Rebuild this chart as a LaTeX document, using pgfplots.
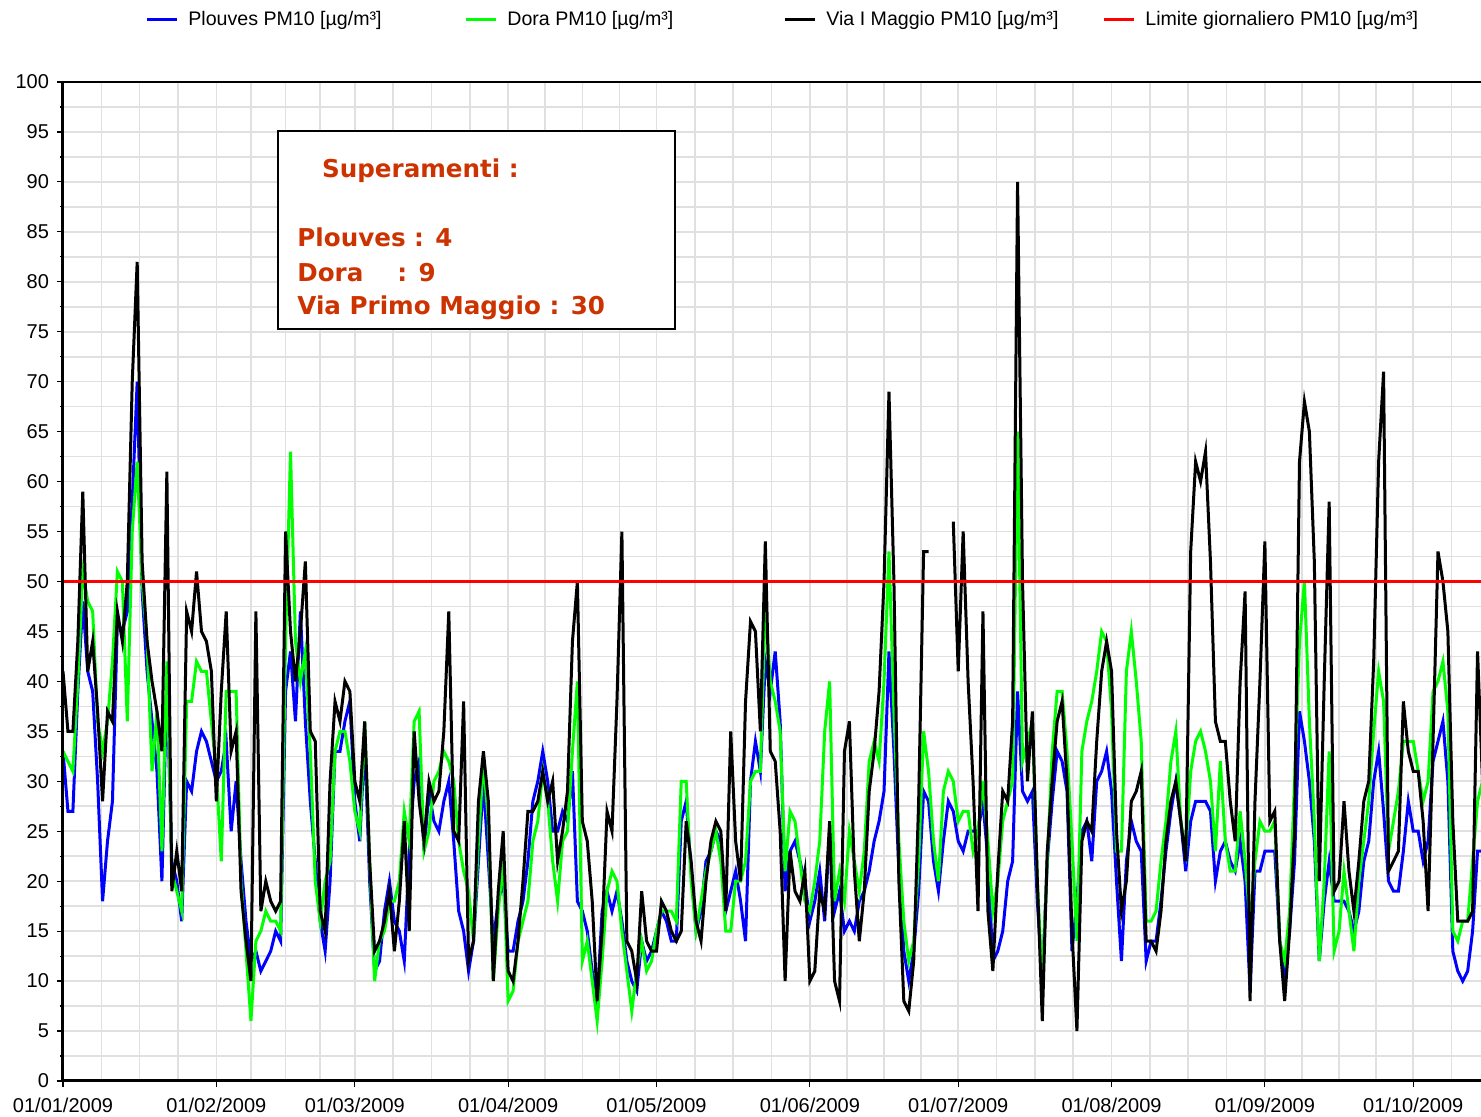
\documentclass[border=0pt]{standalone}
\usepackage{pgfplots}
\pgfplotsset{compat=1.18}
\usepackage{pgfplotstable}
\usepackage{fontspec}
\setmainfont{Liberation Sans}
\newfontfamily\boxfont{DejaVu Sans}
\definecolor{gridgray}{RGB}{224,224,224}
\definecolor{annot}{RGB}{204,51,0}
\definecolor{pblue}{RGB}{0,0,255}
\definecolor{dgreen}{RGB}{0,255,0}

\pgfplotstableread{
d P D V
0 33 33 41
1 27 32 35
2 27 31 35
3 39 40 44
4 48 51 59
5 41 48 41
6 39 47 44
7 30 36 37
8 18 33 28
9 24 36 37
10 28 42 36
11 46 51 47
12 45 50 44
13 47 36 50
14 58 55 70
15 70 62 82
16 49 50 52
17 41 44 44
18 36 31 40
19 31 37 37
20 20 23 33
21 40 42 61
22 22 21 19
23 20 19 23
24 16 17 19
25 30 38 47
26 29 38 45
27 33 42 51
28 35 41 45
29 34 41 44
30 32 36 41
31 30 31 28
32 31 22 39
33 34 39 47
34 25 39 33
35 30 39 35
36 22 20 19
37 16 13 14
38 12 6 10
39 13 14 47
40 11 15 17
41 12 17 20
42 13 16 18
43 15 16 17
44 14 15 18
45 39 44 55
46 43 63 45
47 36 44 40
48 47 40 45
49 36 43 52
50 28 33 35
51 22 20 34
52 16 16 17
53 13 20 15
54 20 22 30
55 33 33 38
56 33 35 36
57 36 35 40
58 38 32 39
59 28 27 30
60 24 25 28
61 34 36 36
62 20 22 22
63 11 10 13
64 12 14 14
65 17 15 16
66 20 18 19
67 16 18 13
68 15 20 18
69 12 27 26
70 23 24 15
71 30 36 35
72 32 37 28
73 23 23 24
74 29 25 30
75 26 30 28
76 25 31 29
77 28 33 35
78 30 32 47
79 24 30 25
80 17 24 24
81 15 21 38
82 11 19 12
83 14 14 14
84 22 24 28
85 30 32 33
86 22 26 28
87 14 10 10
88 18 17 19
89 20 22 25
90 13 8 11
91 13 9 10
92 16 14 14
93 18 16 20
94 22 18 27
95 28 24 27
96 30 26 28
97 33 31 31
98 30 28 28
99 25 22 30
100 25 18 22
101 27 24 25
102 26 25 29
103 31 33 44
104 18 40 50
105 17 12 26
106 15 14 24
107 11 10 18
108 8 6 8
109 17 12 15
110 19 19 27
111 17 21 25
112 19 20 38
113 16 15 55
114 12 11 14
115 10 7 13
116 9 11 10
117 14 14 19
118 12 11 14
119 13 12 13
120 15 15 13
121 17 17 18
122 16 17 17
123 14 17 15
124 14 16 14
125 26 30 15
126 28 30 26
127 21 20 22
128 15 15 16
129 17 18 14
130 22 21 20
131 23 23 24
132 25 25 26
133 24 22 25
134 17 15 17
135 19 15 35
136 21 20 24
137 18 20 20
138 14 22 38
139 30 30 46
140 34 31 45
141 31 31 35
142 42 48 54
143 39 40 33
144 43 38 32
145 36 35 25
146 19 21 10
147 23 27 23
148 24 26 19
149 22 22 18
150 20 18 21
151 16 17 10
152 18 20 11
153 21 24 19
154 16 35 17
155 25 40 26
156 17 18 10
157 19 21 8
158 15 18 33
159 16 25 36
160 15 22 21
161 18 19 14
162 19 23 19
163 21 32 29
164 24 34 33
165 26 32 39
166 29 40 50
167 43 53 69
168 33 37 50
169 21 24 20
170 13 16 8
171 10 12 7
172 13 14 12
173 19 22 28
174 29 35 53
175 28 31 53
176 22 24 nan
177 19 20 nan
178 24 29 nan
179 28 31 nan
180 27 30 56
181 24 26 41
182 23 27 55
183 25 27 40
184 25 23 30
185 25 25 17
186 28 30 47
187 22 24 17
188 12 17 11
189 13 20 21
190 15 26 29
191 20 28 28
192 22 30 36
193 39 65 90
194 29 32 50
195 28 34 30
196 29 36 37
197 18 20 20
198 10 10 6
199 22 22 23
200 28 33 30
201 33 39 36
202 32 39 38
203 29 33 30
204 13 24 15
205 18 14 5
206 25 33 24
207 26 36 26
208 22 38 25
209 30 41 34
210 31 45 41
211 33 44 44
212 29 37 41
213 20 23 25
214 12 23 17
215 22 41 20
216 26 45 28
217 24 40 29
218 23 34 31
219 12 16 14
220 14 16 14
221 14 17 13
222 18 22 17
223 23 26 24
224 27 32 28
225 30 35 30
226 26 26 26
227 21 23 22
228 26 31 53
229 28 34 62
230 28 35 60
231 28 33 63
232 27 30 52
233 20 23 36
234 23 32 34
235 24 24 34
236 22 21 28
237 21 21 24
238 24 27 40
239 20 22 49
240 9 16 8
241 21 22 28
242 21 26 40
243 23 25 54
244 23 25 26
245 23 26 27
246 14 14 14
247 11 12 8
248 15 17 15
249 22 30 25
250 37 44 62
251 34 50 68
252 30 36 65
253 24 26 52
254 12 12 20
255 18 20 40
256 22 33 58
257 18 13 19
258 18 15 20
259 18 21 28
260 17 17 21
261 15 13 17
262 17 20 22
263 22 24 28
264 24 28 30
265 30 35 42
266 33 41 62
267 27 38 71
268 20 23 21
269 19 26 22
270 19 29 23
271 23 34 38
272 28 34 33
273 25 34 31
274 25 31 31
275 22 28 26
276 24 30 17
277 32 39 34
278 34 40 53
279 36 42 50
280 30 37 45
281 13 15 26
282 11 14 16
283 10 16 16
284 11 16 16
285 15 22 17
286 23 28 43
287 23 30 30
}\datatable

\begin{document}
\begin{tikzpicture}
\begin{axis}[
  at={(0pt,0pt)}, anchor=south west,
  width=709pt, height=499.5pt, scale only axis,
  xmin=0, xmax=286.7, ymin=0, ymax=100,
  xtick={0,31,59,90,120,151,181,212,243,273},
  xticklabels={01/01/2009,01/02/2009,01/03/2009,01/04/2009,01/05/2009,01/06/2009,01/07/2009,01/08/2009,01/09/2009,01/10/2009},
  extra x ticks={7.75,15.5,23.25,38,45,52,66.75,74.5,82.25,97.5,105,112.5,127.75,135.5,143.25,158.5,166,173.5,188.75,196.5,204.25,219.75,227.5,235.25,250.5,258,265.5,280.75},
  extra x tick labels={},
  extra x tick style={grid=major, major tick length=0pt},
  ytick={0,5,...,100},
  minor ytick={2.5,7.5,...,97.5},
  grid=both,
  major grid style={gridgray, line width=0.8pt},
  minor grid style={gridgray, line width=0.8pt},
  tick pos=left, tick align=outside,
  major tick length=3pt, minor tick length=1.5pt,
  every tick/.style={black, line width=0.6pt},
  axis line style={draw=none},
  ticklabel style={font=\fontsize{10}{12}\selectfont},
  /pgf/number format/assume math mode=true,
  yticklabel style={xshift=-0.5pt},
  xticklabel style={yshift=-2pt},
  legend columns=4,
  legend image code/.code={\draw[#1] (0pt,0pt) -- (15pt,0pt);},
  legend style={at={(axis description cs:0.0536,1.0621)}, anchor=west,
    draw=none, fill=none, font=\fontsize{9.8}{12}\selectfont,
    nodes={inner sep=0pt},
    /tikz/column sep=0pt,
    /tikz/every odd column/.append style={column sep=5pt}},
]
\addplot[pblue, line width=1.5pt] table[x=d, y=P] {\datatable};
\addlegendentry{\makebox[138pt][l]{Plouves PM10 [µg/m³]}}
\addplot[dgreen, line width=1.5pt] table[x=d, y=D] {\datatable};
\addlegendentry{\makebox[138pt][l]{Dora PM10 [µg/m³]}}
\addplot[black, line width=1.5pt, unbounded coords=jump] table[x=d, y=V] {\datatable};
\addlegendentry{\makebox[138pt][l]{Via I Maggio PM10 [µg/m³]}}
\addplot[red, line width=1.5pt] coordinates {(0,50) (300,50)};
\addlegendentry{\makebox[138pt][l]{Limite giornaliero PM10 [µg/m³]}}
\end{axis}
\draw[line width=1.5pt] (0,499.5pt) -- (0,0) -- (709pt,0);
\draw[line width=0.6pt] (0,499.5pt) -- (709pt,499.5pt);
\draw[black, line width=1pt, fill=white] (107.5pt,376pt) rectangle (306pt,475pt);
\begin{scope}[every node/.style={anchor=base west, inner sep=0pt, text=annot, font=\boxfont\bfseries\fontsize{12.3}{14}\selectfont}]
\node at (129.35pt,451.5pt) {Superamenti :};
\node at (117pt,417.15pt) {Plouves : 4};
\node at (117pt,399.65pt) {Dora\hspace{17pt}: 9};
\node at (117pt,383pt) {Via Primo Maggio : 30};
\end{scope}
\pgfresetboundingbox
\useasboundingbox (-31.5pt,-18pt) rectangle (709pt,540.5pt);
\end{tikzpicture}
\end{document}
